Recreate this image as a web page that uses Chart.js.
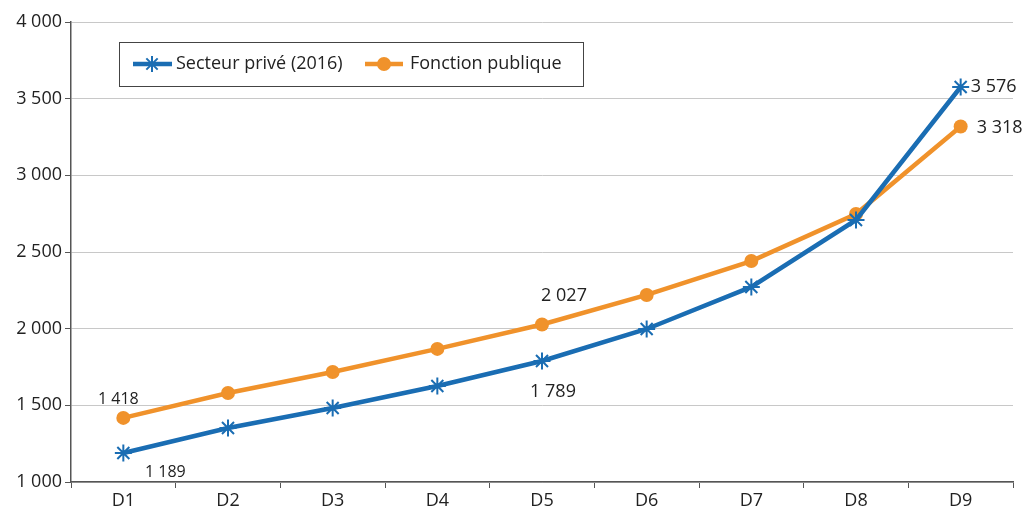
<!DOCTYPE html>
<html>
<head>
<meta charset="utf-8">
<script src="https://cdn.jsdelivr.net/npm/chart.js@4/dist/chart.umd.min.js"></script>
<style>
  html, body { margin: 0; padding: 0; background: #fff; }
  #wrap { width: 1027px; height: 510px; }
</style>
</head>
<body>
<div id="wrap"><canvas id="c" width="1027" height="510"></canvas></div>
<script>
const categories = ['D1', 'D2', 'D3', 'D4', 'D5', 'D6', 'D7', 'D8', 'D9'];
const prive = [1189, 1352, 1483, 1626, 1789, 1998, 2272, 2709, 3576];
const publique = [1418, 1580, 1717, 1868, 2027, 2220, 2441, 2748, 3318];
const yTicks = [1000, 1500, 2000, 2500, 3000, 3500, 4000];

const BLUE = '#1a6db3';
const ORANGE = '#f0922b';
const TEXT = '#222';
const FONT = '"Open Sans", sans-serif';
const fmt = v => String(v).replace(/\B(?=(\d{3})+(?!\d))/g, ' ');

// labels shown on a few points: [dataset, index, dx, dy, align, size]
const shownLabels = [
  [1, 0, -5, -18, 'center', 16],
  [0, 0, 42, 19, 'center', 16],
  [1, 4, 22, -29, 'center', 18],
  [0, 4, 11, 31, 'center', 18],
  [0, 8, 10, 0, 'left', 18],
  [1, 8, 16, 1, 'left', 18]
];

const labelPlugin = {
  id: 'labels',
  afterDatasetsDraw(chart) {
    const ctx = chart.ctx;
    ctx.save();
    ctx.fillStyle = TEXT;
    ctx.textBaseline = 'middle';
    shownLabels.forEach(([ds, i, dx, dy, align, size]) => {
      const pt = chart.getDatasetMeta(ds).data[i];
      ctx.font = size + 'px ' + FONT;
      ctx.textAlign = align;
      ctx.fillText(fmt(chart.data.datasets[ds].data[i]), pt.x + dx, pt.y + dy);
    });
    ctx.restore();
  }
};

const legendPlugin = {
  id: 'boxLegend',
  afterDraw(chart) {
    const ctx = chart.ctx;
    const a = chart.chartArea;
    const x0 = a.left + 48, y0 = a.top + 20, w = 464, h = 44;
    const cy = y0 + h / 2;
    ctx.save();
    ctx.fillStyle = '#fff';
    ctx.fillRect(x0, y0, w, h);
    ctx.strokeStyle = '#444';
    ctx.lineWidth = 1;
    ctx.strokeRect(x0 + 0.5, y0 + 0.5, w, h);
    ctx.font = '18px ' + FONT;
    ctx.textBaseline = 'middle';
    ctx.fillStyle = TEXT;
    // item 1
    ctx.strokeStyle = BLUE;
    ctx.lineWidth = 4.5;
    ctx.beginPath(); ctx.moveTo(x0 + 14, cy); ctx.lineTo(x0 + 53, cy); ctx.stroke();
    ctx.lineWidth = 2;
    Chart.helpers.drawPoint(ctx, { pointStyle: 'star', radius: 8, borderWidth: 2 }, x0 + 33, cy);
    ctx.fillText('Secteur privé (2016)', x0 + 57, cy);
    // item 2
    ctx.strokeStyle = ORANGE;
    ctx.fillStyle = ORANGE;
    ctx.lineWidth = 4.5;
    ctx.beginPath(); ctx.moveTo(x0 + 246, cy); ctx.lineTo(x0 + 284, cy); ctx.stroke();
    ctx.beginPath(); ctx.arc(x0 + 265, cy, 7, 0, Math.PI * 2); ctx.fill();
    ctx.fillStyle = TEXT;
    ctx.fillText('Fonction publique', x0 + 291, cy);
    ctx.restore();
  }
};

new Chart(document.getElementById('c'), {
  type: 'line',
  data: {
    labels: categories,
    datasets: [
      {
        label: 'Secteur privé (2016)',
        data: prive,
        borderColor: BLUE,
        backgroundColor: BLUE,
        borderWidth: 4.5,
        pointStyle: 'star',
        pointRadius: 8.5,
        pointBorderWidth: 2,
        pointHoverRadius: 8.5,
        tension: 0
      },
      {
        label: 'Fonction publique',
        data: publique,
        borderColor: ORANGE,
        backgroundColor: ORANGE,
        borderWidth: 4.5,
        pointStyle: 'circle',
        pointRadius: 7,
        pointBorderWidth: 0,
        pointHoverRadius: 7,
        tension: 0
      }
    ]
  },
  options: {
    responsive: false,
    animation: false,
    layout: { padding: { top: 22, right: 14, left: 0, bottom: 0 } },
    plugins: { legend: { display: false }, tooltip: { enabled: false } },
    scales: {
      x: {
        offset: true,
        grid: { offset: true, drawOnChartArea: false, drawTicks: true, tickLength: 6, color: '#555' },
        border: { color: '#555', width: 1.5 },
        ticks: { color: TEXT, font: { family: FONT, size: 18 }, padding: 2 },
        afterFit(s) { s.height = 28; }
      },
      y: {
        min: 1000,
        max: 4000,
        afterBuildTicks(s) { s.ticks = yTicks.map(v => ({ value: v })); },
        grid: { color: '#c8c8c8', tickColor: '#555', tickLength: 6, lineWidth: 1 },
        border: { color: '#555', width: 1.5 },
        ticks: {
          color: TEXT,
          font: { family: FONT, size: 18 },
          padding: 3,
          callback: v => fmt(v)
        },
        afterFit(s) { s.width = 71; }
      }
    }
  },
  plugins: [labelPlugin, legendPlugin]
});
</script>
</body>
</html>
